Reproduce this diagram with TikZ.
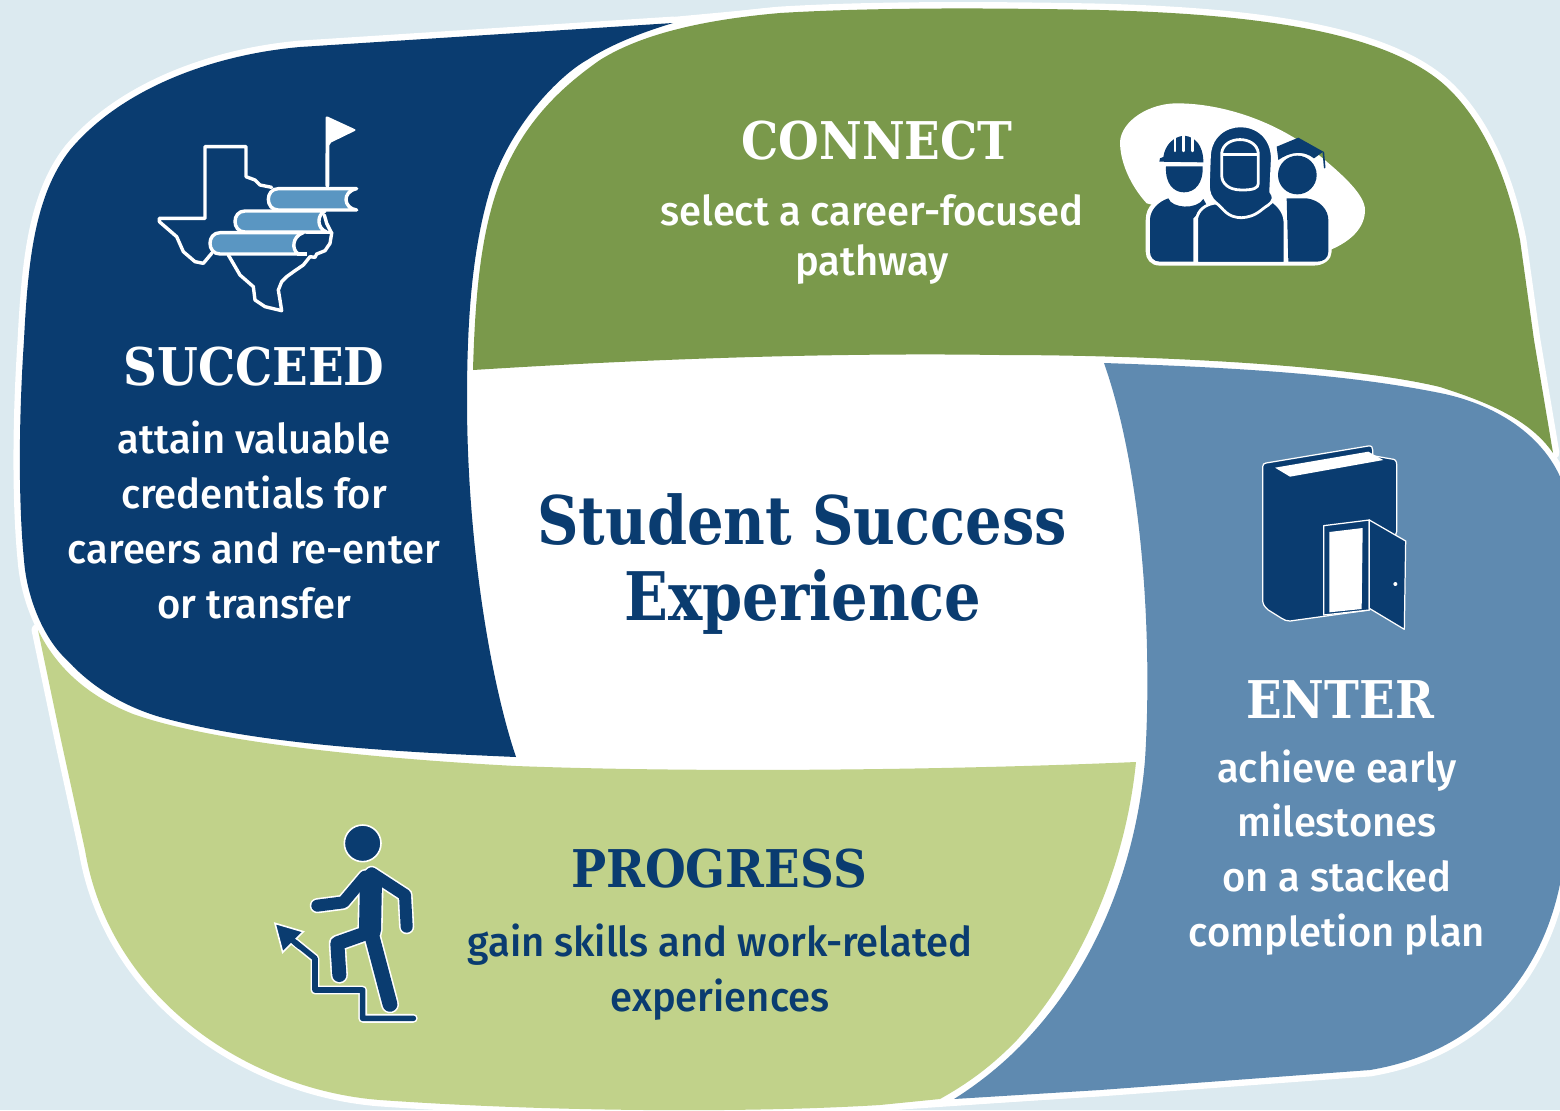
\documentclass[tikz,border=0pt]{standalone}
\usepackage{fontspec}
\setmainfont[FakeStretch=0.975]{Fira Sans Medium}
\newfontfamily\slab[FakeStretch=0.9]{DejaVu Serif Bold}
\newfontfamily\slabt[FakeStretch=0.858]{DejaVu Serif Bold}
\definecolor{bg}{HTML}{DCEAF0}
\definecolor{navy}{HTML}{0A3C70}
\definecolor{leaf}{HTML}{7A994B}
\definecolor{sky}{HTML}{5F8AB0}
\definecolor{lime}{HTML}{C1D28A}
\definecolor{pagefill}{HTML}{5A96C2}
\def\pathNavy{(673,23) -- (300,47) .. controls (210,55) and (120,90) .. (70,150) .. controls (35,195) and (28,260) .. (24,340) .. controls (18,430) and (19,510) .. (24,560) .. controls (27,600) and (45,640) .. (67,660) .. controls (90,685) and (120,705) .. (160,717) .. controls (260,745) and (400,752) .. (516,757) .. controls (490,680) and (467,540) .. (467,400) .. controls (467,320) and (472,250) .. (490,190) .. controls (510,125) and (560,75) .. (587,60) .. controls (610,45) and (640,33) .. (673,23) -- cycle}
\def\pathLeaf{(473,370) .. controls (475,300) and (480,240) .. (497,190) .. controls (520,125) and (560,88) .. (600,60) .. controls (640,35) and (700,20) .. (780,13) .. controls (880,7) and (1000,8) .. (1100,10) .. controls (1250,14) and (1390,30) .. (1450,90) .. controls (1490,130) and (1510,190) .. (1520,240) -- (1534,340) -- (1553,453) .. controls (1530,420) and (1490,403) .. (1440,387) .. controls (1350,365) and (1150,355) .. (1000,355) .. controls (800,352) and (600,362) .. (473,370) -- cycle}
\def\pathSky{(1104,363) .. controls (1250,368) and (1350,375) .. (1440,393) .. controls (1500,405) and (1550,440) .. (1565,490) -- (1565,850) .. controls (1555,960) and (1490,1050) .. (1370,1070) -- (1100,1090) -- (954,1099) .. controls (1080,1020) and (1135,880) .. (1145,760) .. controls (1152,650) and (1145,480) .. (1104,363) -- cycle}
\def\pathLime{(38,630) .. controls (55,665) and (85,695) .. (133,714) .. controls (220,745) and (400,760) .. (516,766) .. controls (700,773) and (950,770) .. (1136,762) .. controls (1125,870) and (1080,970) .. (1017,1040) .. controls (990,1068) and (965,1085) .. (940,1099) -- (880,1105) .. controls (750,1113) and (550,1112) .. (380,1100) .. controls (250,1090) and (110,1000) .. (85,850) -- (61,740) -- cycle}
\tikzset{
 halo/.style={fill=white,draw=white,line width=6.4pt,line join=round},
 head/.style={font=\slab\fontsize{#1}{#1}\selectfont,inner sep=0pt,anchor=base},
 headt/.style={font=\slabt\fontsize{#1}{#1}\selectfont,inner sep=0pt,anchor=base},
 body/.style={font=\fontsize{20.5}{27.4}\selectfont,align=center,inner sep=0pt},
 bodytight/.style={font=\fontsize{20.5}{25}\selectfont,align=center,inner sep=0pt},
 zoomed/.style={x=0.16667pt,y=-0.16667pt},
 wstroke/.style={draw=white,line width=0.62pt,line join=round,fill=navy},
 pstroke/.style={draw=white,line width=1.4pt,line join=round,fill=navy},
 navystroke/.style={draw=navy,line cap=round,line join=round},
 halostroke/.style={draw=white,line cap=round,line join=round},
 mapline/.style={white,line width=1.7pt,line join=round,line cap=round},
}
\begin{document}
\begin{tikzpicture}[x=0.5pt,y=-0.5pt]
\useasboundingbox (0,0) rectangle (1560,1110);
\clip (0,0) rectangle (1560,1110);
\fill[bg] (0,0) rectangle (1560,1110);
% white outline
\path[halo] \pathNavy; \path[halo] \pathLeaf; \path[halo] \pathSky; \path[halo] \pathLime;
\fill[white] (460,360) rectangle (1160,780);
\fill[white] (640,20) -- (780,7) -- (780,20) -- (640,40) -- cycle;
\fill[white] (880,1111) -- (1100,1096) -- (1100,1085) -- (880,1100) -- cycle;
% regions
\fill[navy] \pathNavy;
\fill[leaf] \pathLeaf;
\fill[sky] \pathSky;
\fill[lime] \pathLime;
% texas icon
\begin{scope}[shift={(140,100)},zoomed]
\draw[mapline] (395,262) -- (360,255) -- (345,240) -- (318,230) -- (318,140) -- (195,140) -- (195,355) -- (58,355) -- (58,365) -- (110,410) -- (130,455) -- (165,485) -- (190,490) -- (215,460);
\draw[mapline] (265,465) -- (300,525) -- (340,560) -- (345,600) -- (375,620) -- (425,632) -- (420,600) -- (415,570) -- (425,545) -- (440,530) -- (465,512) -- (490,495) -- (510,470) -- (525,472) -- (530,462) -- (555,452) -- (570,430) -- (575,400) -- (560,370) -- (553,345);
% flag
\fill[white,rounded corners=1pt] (557,47) -- (650,90) -- (568,130) -- (568,262) -- (556,262) -- cycle;
% books
\draw[mapline,fill=pagefill,line cap=butt] (650,266) -- (415,266) .. controls (375,266) and (375,330) .. (415,330) -- (650,330) .. controls (610,325) and (605,275) .. (650,266) -- cycle;
\draw[mapline,fill=pagefill,line cap=butt] (555,333) -- (315,333) .. controls (275,333) and (275,396) .. (315,396) -- (560,396) .. controls (530,385) and (530,345) .. (555,333) -- cycle;
\draw[mapline] (575,398) -- (500,398);
\draw[mapline,fill=pagefill,line cap=butt] (490,398) -- (240,398) .. controls (200,398) and (200,462) .. (240,462) -- (475,462) .. controls (455,450) and (455,410) .. (490,398) -- cycle;
\draw[mapline,line cap=butt] (470,462) -- (500,462);
\end{scope}
% people icon
\begin{scope}[shift={(1110,95)},zoomed]
\fill[white] (30,140) .. controls (35,75) and (120,25) .. (200,25) .. controls (340,25) and (500,80) .. (620,175) .. controls (700,240) and (765,300) .. (765,345) .. controls (765,400) and (720,440) .. (660,465) -- (110,325) .. controls (60,270) and (30,200) .. (30,140) -- cycle;
\path[draw=white,line width=1.6pt,fill=white,line join=round] (112,375) .. controls (112,335) and (140,315) .. (175,305) -- (600,305) .. controls (640,315) and (660,345) .. (660,375) -- (660,470) .. controls (660,490) and (640,507) .. (610,507) -- (150,507) .. controls (125,507) and (112,490) .. (112,470) -- cycle;
% left person
\path[fill=navy] (120,375) .. controls (120,345) and (145,320) .. (175,310) .. controls (185,340) and (260,345) .. (280,312) -- (290,330) -- (250,370) -- (250,500) -- (150,500) .. controls (130,500) and (120,485) .. (120,470) -- cycle;
\path[fill=navy] (168,214) -- (278,214) .. controls (280,265) and (255,292) .. (222,292) .. controls (190,292) and (165,265) .. (168,214) -- cycle;
\path[fill=navy] (148,200) -- (150,190) -- (160,186) .. controls (165,150) and (190,125) .. (222,122) .. controls (255,125) and (280,150) .. (280,202) -- cycle;
\foreach \xx/\yy in {195/125,221/115,248/125} {\draw[white,line width=1.2pt,line cap=round] (\xx,\yy) -- (\xx,168);}
% right person
\path[fill=navy] (530,310) -- (590,310) .. controls (630,315) and (655,345) .. (655,375) -- (655,470) .. controls (655,490) and (640,500) .. (620,500) -- (535,500) -- cycle;
\path[fill=navy] (562,240) circle [radius=58];
\path[fill=navy] (500,155) -- (565,128) -- (640,170) -- (612,190) .. controls (580,165) and (540,170) .. (505,195) -- cycle;
\draw[navy,line width=0.8pt,line cap=round] (640,172) -- (644,218);
% centre person
\path[pstroke] (260,505) -- (260,370) .. controls (265,345) and (285,330) .. (310,325) -- (490,320) .. controls (515,340) and (525,360) .. (525,385) -- (525,505) -- cycle;
\path[pstroke] (298,190) .. controls (298,60) and (485,60) .. (487,190) -- (482,290) .. controls (495,305) and (490,320) .. (475,330) .. controls (450,345) and (440,365) .. (395,368) .. controls (350,368) and (340,340) .. (320,325) .. controls (300,310) and (295,290) .. (295,270) -- cycle;
\path[pstroke] (335,175) .. controls (340,120) and (440,120) .. (445,175) -- (445,265) .. controls (445,280) and (430,285) .. (395,285) .. controls (355,285) and (335,265) .. (335,240) -- cycle;
\draw[white,line width=1.2pt] (335,178) -- (445,178);
\end{scope}
% door book icon
\begin{scope}[shift={(1240,435)},zoomed]
\path[wstroke] (68,95) .. controls (68,88) and (72,85) .. (78,84) -- (385,33) .. controls (395,32) and (398,36) .. (398,45) -- (398,62) -- (455,72) .. controls (465,72) and (470,78) .. (470,88) -- (470,290) -- (388,525) -- (150,558) .. controls (140,558) and (132,555) .. (125,550) -- (85,525) .. controls (72,515) and (68,505) .. (68,495) -- cycle;
\fill[white] (105,98) -- (385,50) -- (430,75) -- (150,125) -- cycle;
\path[wstroke] (251,272) -- (388,255) -- (388,525) -- (251,540) -- cycle;
\fill[white] (268,291) -- (368,279) -- (365,522) -- (268,532) -- cycle;
\path[wstroke] (388,255) -- (497,318) -- (493,583) -- (388,520) -- cycle;
\fill[white] (466,447) circle [radius=6];
\end{scope}
% walker icon
\begin{scope}[shift={(260,815)},zoomed]
\path[draw=white,line width=0.8pt,fill=navy] (308,85) circle [radius=55];
\foreach \st/\ad in {halostroke/1.6pt,navystroke/0pt}{
 \draw[\st,line width=2.8pt+\ad] (460,610) -- (308,610) -- (308,525) -- (165,525) -- (165,430) -- (88,368);
 \draw[\st,line width=6pt+\ad] (335,175) -- (435,240) -- (440,335);
 \draw[\st,line width=6pt+\ad] (315,185) -- (250,262) -- (172,272);
 \draw[\st,line width=11pt+\ad] (333,195) -- (330,345);
 \draw[\st,line width=7pt+\ad] (325,352) -- (232,385) -- (238,480);
 \draw[\st,line width=7.4pt+\ad] (335,360) -- (390,568);
}
\path[draw=white,line width=0.8pt,fill=navy,line join=miter] (45,325) -- (130,350) -- (68,412) -- cycle;
\draw[navy,line width=2.8pt,line cap=round] (120,395) -- (88,368);
\end{scope}
% text
\node[headt=33.5,navy] (title1) at (802,544) {Student Success};
\node[headt=33.5,navy] (title2) at (803,620) {Experience};
\node[head=26,white] (connectH) at (877,159) {CONNECT};
\node[bodytight,white] (connectT) at (872,239) {select a career-focused\\pathway};
\node[head=26,white] (succeedH) at (254,385) {SUCCEED};
\node[body,white] (succeedT) at (254,520) {attain valuable\\credentials for\\careers and re-enter\\or transfer};
\node[head=26,white] (enterH) at (1340,718) {ENTER};
\node[body,white] (enterT) at (1337,852.5) {achieve early\\milestones\\on a stacked\\completion plan};
\node[head=26,navy] (progressH) at (719,887) {PROGRESS};
\node[bodytight,navy,font=\fontsize{20.5}{27.4}\selectfont] (progressT) at (720,972) {gain skills and work-related\\experiences};
\end{tikzpicture}
\end{document}
